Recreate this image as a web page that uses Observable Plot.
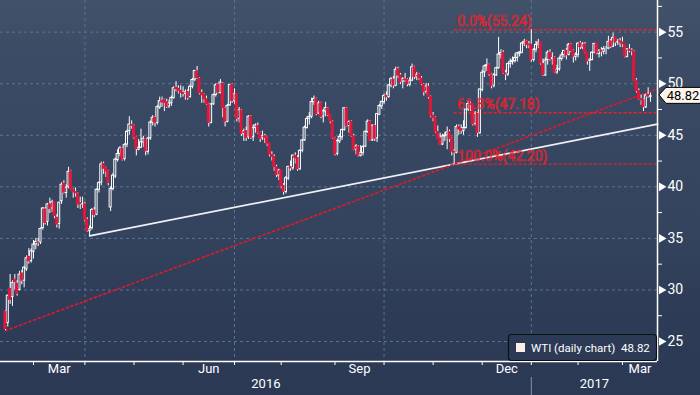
<!DOCTYPE html>
<html>
<head>
<meta charset="utf-8">
<script src="https://cdn.jsdelivr.net/npm/d3@7"></script>
<script src="https://cdn.jsdelivr.net/npm/@observablehq/plot@0.6"></script>
<style>
  html, body { margin: 0; padding: 0; }
  body {
    width: 700px; height: 395px; overflow: hidden;
    background: linear-gradient(to bottom, #415269 0px, #3d4c66 48px, #384761 140px, #33425d 240px, #2e3c58 300px, #2c3955 395px);
  }
  #chart svg { display: block; }
</style>
</head>
<body>
<div id="chart"></div>
<script>
// ---- WTI daily candles, 11 Feb 2016 .. 17 Mar 2017 (one entry per trading day) ----
const open = [
27.9,26.8,30.1,29.3,31.0,30.6,30.0,31.6,30.9,32.0,
33.2,32.8,33.7,34.4,34.6,34.6,36.0,37.8,36.6,38.3,
37.9,38.5,37.0,36.4,38.6,40.3,39.4,40.0,41.5,39.7,
39.5,39.3,38.4,38.3,38.3,36.8,35.7,36.0,37.7,37.3,
39.7,40.4,42.2,41.8,41.5,38.0,39.8,41.0,42.6,43.2,
43.7,42.7,44.1,45.4,46.0,45.9,44.8,43.6,43.8,44.3,
44.6,43.4,44.7,46.2,46.7,46.2,47.7,48.3,48.4,48.2,
47.8,48.1,48.6,49.6,49.5,49.3,49.1,49.0,49.2,48.7,
49.7,50.4,51.2,50.5,49.1,48.9,48.5,48.0,46.2,48.0,
48.9,49.9,49.1,50.0,47.6,46.3,47.9,49.9,48.3,49.0,
46.6,47.4,45.1,45.4,44.8,46.8,44.8,45.7,45.9,45.2,
44.7,44.9,44.8,44.2,43.1,42.9,41.9,41.1,41.6,40.1,
39.5,40.8,41.9,41.8,43.0,42.8,41.7,43.5,44.5,45.7,
46.6,46.8,48.2,48.5,47.1,48.1,46.8,47.3,47.6,47.0,
46.3,44.7,43.2,44.4,44.8,45.5,47.6,45.9,46.3,44.9,
43.6,43.9,43.0,43.3,43.9,45.3,46.3,44.5,45.9,44.7,
47.0,47.8,48.2,48.8,48.7,49.8,50.4,49.8,51.4,50.8,
50.2,50.4,50.4,49.9,50.3,51.6,50.6,50.9,50.5,49.9,
49.2,49.7,48.7,46.9,46.7,45.3,44.7,44.1,44.9,45.0,
45.3,44.7,43.4,43.3,45.8,45.6,45.4,45.7,47.5,48.0,
48.0,46.1,47.1,45.2,49.4,51.1,51.7,51.8,50.9,49.8,
50.8,51.5,52.8,53.0,51.0,50.9,51.9,52.1,52.2,52.5,
52.9,53.0,53.9,54.1,53.8,53.8,52.3,53.3,53.8,54.0,
51.9,50.8,52.3,53.0,52.4,52.5,51.1,51.4,52.4,52.8,
53.2,52.8,53.8,53.2,52.6,52.8,53.9,53.5,53.8,53.0,
52.2,52.3,53.0,53.9,52.9,53.2,53.1,53.4,53.4,54.1,
53.6,54.5,54.0,54.1,54.0,53.8,52.6,53.3,53.2,53.1,
50.3,49.3,48.5,48.4,47.7,48.9,48.7
];
const high = [
28.0,29.5,31.5,30.9,31.5,30.9,31.8,31.9,32.3,33.3,
34.0,34.0,34.8,35.0,35.0,36.0,38.0,38.0,38.4,38.9,
38.7,38.5,37.3,38.5,40.4,40.6,40.2,41.9,41.6,39.8,
39.9,39.4,39.0,39.0,38.5,37.0,36.2,37.9,38.0,39.8,
40.5,42.4,42.4,41.9,41.6,40.0,41.3,42.8,43.6,43.9,
43.8,44.2,45.5,46.8,46.4,46.0,44.9,44.6,45.6,44.9,
44.6,44.8,46.4,46.9,46.8,47.9,48.7,48.7,48.5,48.5,
48.4,48.8,49.7,50.2,49.8,49.8,49.7,49.4,49.4,49.9,
50.5,51.3,51.67,50.6,49.4,49.0,48.8,48.1,48.1,49.0,
50.0,50.0,50.4,50.1,47.7,48.0,49.9,50.0,49.5,49.0,
47.7,47.5,45.6,45.8,46.9,46.9,46.0,46.1,46.2,45.3,
45.4,45.1,44.9,44.2,43.4,43.1,42.1,41.7,41.6,40.3,
41.0,42.0,42.5,43.1,43.3,43.0,43.6,44.6,45.9,46.8,
47.2,48.6,48.8,48.6,48.3,48.2,47.5,48.2,47.7,47.0,
46.4,44.8,44.6,45.1,45.6,47.7,47.7,46.4,46.4,45.1,
44.1,44.0,44.0,44.0,45.4,46.5,46.4,46.0,46.0,47.1,
48.0,48.3,49.0,49.2,49.9,50.6,50.7,51.6,51.6,51.0,
50.6,51.0,50.5,50.6,51.9,51.7,51.1,51.0,50.7,50.0,
50.0,50.0,48.8,47.2,46.8,45.9,45.2,45.1,45.3,45.8,
45.5,44.8,43.6,46.0,46.0,46.0,46.4,47.5,48.3,48.2,
48.0,47.3,47.2,49.5,51.3,51.8,52.4,51.9,51.0,51.0,
51.6,54.5,53.3,53.2,51.3,52.0,52.4,52.6,52.9,53.0,
53.1,54.0,54.3,54.2,54.1,55.24,53.4,54.1,54.3,54.0,
52.4,52.5,53.2,53.3,53.0,52.6,51.8,52.6,53.0,53.2,
53.4,53.9,53.9,53.3,53.0,54.0,54.1,54.0,54.0,53.0,
52.4,53.1,53.9,53.9,53.3,53.5,53.6,53.6,54.6,54.3,
54.9,54.5,54.3,54.4,54.5,53.8,53.4,53.8,53.4,53.2,
50.5,49.5,48.9,48.5,49.0,49.6,49.1
];
const low = [
26.05,26.4,28.6,28.4,30.0,29.4,29.9,30.5,30.2,31.8,
32.5,32.6,33.0,33.9,34.2,34.4,35.8,36.3,36.2,37.4,
37.5,36.9,36.0,35.9,38.3,39.3,38.9,39.8,39.7,38.9,
39.0,37.9,37.8,37.9,36.6,35.6,35.24,35.8,37.0,37.2,
39.4,40.1,41.2,40.9,40.1,37.6,39.6,40.8,42.4,42.9,
42.5,42.5,43.8,45.0,45.6,44.6,43.0,43.5,43.7,43.8,
43.0,43.1,44.5,45.9,45.8,46.0,47.5,47.7,47.3,47.6,
47.6,47.8,48.5,49.2,49.0,48.6,48.7,48.4,48.4,48.6,
49.5,50.2,50.4,48.9,48.1,48.1,47.9,45.8,46.1,47.9,
48.7,49.0,49.0,46.7,45.8,46.2,47.8,48.1,48.0,46.3,
46.2,44.9,44.4,44.4,44.6,44.6,44.4,45.2,45.1,44.3,
44.5,44.2,43.9,42.9,42.5,41.5,40.9,40.6,39.8,39.19,
39.3,40.6,41.5,41.6,42.2,41.5,41.6,43.3,44.4,45.6,
46.0,46.6,47.9,46.9,47.0,46.6,46.2,46.8,46.8,46.1,
44.6,43.0,43.0,44.2,44.5,45.4,45.8,45.2,44.8,43.5,
43.1,42.9,42.9,43.0,43.8,45.2,44.4,44.4,44.4,44.3,
46.9,47.5,48.0,48.3,48.6,49.6,49.5,49.7,50.5,49.9,
49.5,50.1,49.7,49.7,50.2,50.4,50.3,50.3,49.8,48.8,
49.0,48.5,46.7,46.3,45.2,44.6,44.0,44.0,44.4,43.6,
44.3,43.0,42.20,43.2,45.0,45.1,45.0,45.6,47.3,47.3,
45.9,45.9,44.8,45.1,49.2,50.6,51.2,50.7,49.5,49.6,
50.7,51.4,52.4,50.9,50.3,50.7,51.5,51.8,52.0,52.1,
52.6,52.9,53.6,53.4,53.4,52.1,52.1,53.0,53.4,51.8,
50.7,50.7,51.8,52.2,51.8,51.0,50.9,51.2,52.2,52.5,
52.3,52.7,53.0,52.0,52.2,52.5,53.3,53.3,52.9,51.8,
51.2,52.2,52.9,52.8,52.5,52.6,52.8,52.8,53.3,53.4,
53.5,53.6,53.7,53.5,53.5,52.5,52.5,53.0,52.7,50.2,
49.1,48.4,47.9,47.3,47.6,48.6,48.2
];
const close = [
26.21,29.44,29.04,30.66,30.77,29.64,31.48,30.9,32.15,33.07,
32.78,33.75,34.40,34.66,34.57,35.92,37.90,36.50,38.29,37.84,
38.50,37.18,36.34,38.46,40.20,39.44,39.91,41.45,39.79,39.46,
39.39,38.28,38.32,38.34,36.79,35.70,35.89,37.75,37.26,39.72,
40.36,42.17,41.76,41.50,40.36,39.78,41.08,42.63,43.18,43.73,
42.64,44.04,45.33,46.03,45.92,44.78,43.65,43.78,44.32,44.66,
43.44,44.66,46.23,46.70,46.21,47.72,48.31,48.19,48.16,47.75,
48.08,48.62,49.56,49.48,49.33,49.10,49.01,49.17,48.62,49.69,
50.36,51.23,50.56,49.07,48.88,48.49,48.01,46.21,47.98,48.89,
49.85,49.13,50.11,47.64,46.33,47.85,49.88,48.33,48.99,46.60,
47.43,45.14,45.41,44.76,46.80,44.75,45.68,45.95,45.24,44.65,
44.94,44.75,44.19,43.13,42.92,41.92,41.14,41.60,40.06,39.51,
40.83,41.93,41.80,43.02,42.77,41.71,43.49,44.49,45.74,46.58,
46.79,48.22,48.52,47.05,48.10,46.77,47.33,47.64,46.98,46.35,
44.70,43.16,44.44,44.83,45.50,47.62,45.88,46.29,44.90,43.58,
43.91,43.03,43.30,43.85,45.34,46.32,44.48,45.93,44.67,47.05,
47.83,48.24,48.81,48.69,49.83,50.44,49.81,51.35,50.79,50.18,
50.44,50.35,49.94,50.29,51.60,50.63,50.85,50.52,49.96,49.18,
49.72,48.70,46.86,46.67,45.34,44.66,44.07,44.89,44.98,45.27,
44.66,43.41,43.32,45.81,45.57,45.42,45.69,47.49,48.03,47.96,
46.06,47.08,45.23,49.44,51.06,51.68,51.79,50.93,49.77,50.84,
51.50,52.83,52.98,51.04,50.90,51.90,52.12,52.23,52.49,52.95,
53.02,53.90,54.06,53.77,53.72,52.33,53.26,53.76,53.99,51.96,
50.82,52.25,53.01,52.37,52.48,51.08,51.37,52.42,52.75,53.18,
52.75,53.78,53.17,52.63,52.81,53.88,53.54,53.83,53.01,52.17,
52.34,53.00,53.86,52.93,53.20,53.11,53.36,53.40,54.06,53.59,
54.45,53.99,54.05,54.01,53.83,52.61,53.33,53.20,53.14,50.28,
49.28,48.49,48.40,47.72,48.86,48.75,48.82
];

// ---- axis / annotation values ----
const monthStarts = [12, 34, 55, 76, 98, 118, 141, 162, 183, 204, 225, 245, 264]; // trading-day index of 1st of Mar 2016 .. Mar 2017
const monthNames  = ["Mar","Apr","May","Jun","Jul","Aug","Sep","Oct","Nov","Dec","Jan","Feb","Mar"];
const labelledMonths = ["Mar","Jun","Sep","Dec"];
const quarterStarts = [34, 98, 162, 225];
const yearStartIndex = [225];
const yearNames = ["2016", "2017"];
const yTicks = [25, 30, 35, 40, 45, 50, 55];
const yMinor = [27.5, 32.5, 37.5, 42.5, 47.5, 52.5, 57.5];
const fibPct = ["0.0%", "61.8%", "100.0%"];
const fibValues = [55.24, 47.18, 42.20];
const fibStartIndex = 192;          // 14 Nov 2016 low
const supportAnchors = [[36, 35.24], [192, 42.20]];  // 5 Apr 2016 low -> 14 Nov 2016 low
const redAnchors = [[0, 26.05], [192, 42.20]];        // 11 Feb 2016 low -> 14 Nov 2016 low
const seriesName = "WTI (daily chart)";

// ---- layout ----
const W = 700, H = 395, mR = 43, mB = 34;
const xDomain = [-2.12, 279];
const yDomain = [23.06, 58.07];
const RED = "#e3173a";
const ANN = "#f01e28";
const GRID = "#587593";
const FONT = "Roboto, 'DejaVu Sans', sans-serif";

const candles = close.map((c, i) => ({i, o: open[i], h: high[i], l: low[i], c}));
const last = candles[candles.length - 1];

function extend([[x0, y0], [x1, y1]], xEnd) {
  const s = (y1 - y0) / (x1 - x0);
  return [{i: x0, v: y0}, {i: xEnd, v: y0 + s * (xEnd - x0)}];
}
const supportLine = extend(supportAnchors, xDomain[1]);
const redLine = extend(redAnchors, xDomain[1]);
const fibs = fibValues.map((v, k) => ({v, label: `${fibPct[k]}(${v.toFixed(2)})`}));

const monthLabels = monthStarts.map((s, k) => ({
  name: monthNames[k],
  mid: (s + (k + 1 < monthStarts.length ? monthStarts[k + 1] : xDomain[1])) / 2,
  show: labelledMonths.includes(monthNames[k]) || k === monthStarts.length - 1
})).filter(d => d.show);
const yearLabels = [
  {name: yearNames[0], mid: (xDomain[0] + yearStartIndex[0]) / 2},
  {name: yearNames[1], mid: (yearStartIndex[0] + xDomain[1]) / 2}
];

function legendMark(index, scales, values, dim) {
  const g = d3.create("svg:g");
  const x1 = dim.width - dim.marginRight - 1, y1 = dim.height - dim.marginBottom - 1;
  const x0 = x1 - 148, y0 = y1 - 26;
  g.append("rect").attr("x", x0 + 0.5).attr("y", y0 + 0.5).attr("width", 148).attr("height", 26)
    .attr("rx", 3).attr("fill", "#2d3a56").attr("stroke", "#0b0f18").attr("stroke-width", 1.2);
  g.append("rect").attr("x", x0 + 8).attr("y", y0 + 9).attr("width", 9).attr("height", 9).attr("fill", "#fbefe8");
  g.append("text").attr("x", x0 + 23).attr("y", y0 + 13.5).attr("dy", "0.35em")
    .attr("text-anchor", "start")
    .attr("fill", "white").attr("font-size", 11.5).attr("font-family", FONT)
    .text(`${seriesName}  ${last.c.toFixed(2)}`);
  return g.node();
}

function priceTag(index, scales, values, dim) {
  const g = d3.create("svg:g");
  const x = scales.x(xDomain[1]), y = scales.y(last.c);
  g.append("path")
    .attr("d", `M${x + 2},${y - 0.5} L${x + 9},${y - 8} H${x + 50} V${y + 8} H${x + 9} Z`)
    .attr("fill", "#fdf5ec").attr("stroke", "#000").attr("stroke-width", 1);
  g.append("text").attr("x", x + 26).attr("y", y).attr("dy", "0.36em").attr("text-anchor", "middle")
    .attr("fill", "#000").attr("font-size", 13).attr("font-family", FONT).text(last.c.toFixed(2));
  return g.node();
}

const chart = Plot.plot({
  width: W, height: H,
  marginLeft: 0, marginTop: 0, marginRight: mR, marginBottom: mB,
  style: {background: "transparent", color: "white", fontFamily: FONT, overflow: "visible"},
  x: {type: "linear", domain: xDomain, axis: null},
  y: {type: "linear", domain: yDomain, axis: null},
  marks: [
    Plot.ruleY(yTicks, {stroke: GRID, strokeDasharray: "3,3", strokeWidth: 1}),
    Plot.ruleX(quarterStarts, {stroke: GRID, strokeDasharray: "3,3", strokeWidth: 1}),
    Plot.line(supportLine, {x: "i", y: "v", stroke: "#eef0f4", strokeWidth: 1.8}),
    Plot.line(redLine, {x: "i", y: "v", stroke: "#dc1a2c", strokeWidth: 1.7, strokeDasharray: "2,3"}),
    Plot.ruleY(fibs, {y: "v", x1: fibStartIndex, x2: xDomain[1], stroke: ANN, strokeWidth: 1.4, strokeDasharray: "3,2"}),
    // wicks
    Plot.ruleX(candles, {x: "i", y1: "h", y2: d => Math.max(d.o, d.c), stroke: "white", strokeWidth: 1}),
    Plot.ruleX(candles, {x: "i", y1: "l", y2: d => Math.min(d.o, d.c), stroke: "white", strokeWidth: 1}),
    // bodies
    Plot.rect(candles, {filter: d => d.c >= d.o, x1: d => d.i - 0.43, x2: d => d.i + 0.43, y1: "o", y2: "c",
      fill: "none", stroke: "white", strokeWidth: 1}),
    Plot.rect(candles, {filter: d => d.c < d.o, x1: d => d.i - 0.43, x2: d => d.i + 0.43, y1: "o", y2: "c",
      fill: RED, stroke: RED, strokeWidth: 1}),
    Plot.text(fibs, {x: fibStartIndex, y: "v", text: "label", textAnchor: "start", dx: 3, dy: -8,
      fill: "none", stroke: ANN, strokeWidth: 0.7, fontSize: 14, fontFamily: FONT}),
    // axis lines
    Plot.ruleX([xDomain[1]], {stroke: "white", strokeWidth: 1.5}),
    Plot.ruleY([yDomain[0]], {stroke: "white", strokeWidth: 1.5}),
    Plot.axisY({anchor: "right", ticks: yMinor, tickSize: 4, tickFormat: () => "", stroke: "white"}),
    Plot.axisY({anchor: "right", ticks: yTicks, tickSize: 0, tickPadding: 10, fontSize: 14, color: "white", fill: "white"}),
    Plot.dot(yTicks, {x: () => xDomain[1], y: d => d, symbol: "triangle", rotate: 90, r: 3.2, fill: "white", dx: 4}),
    Plot.axisX({anchor: "bottom", ticks: monthStarts, tickSize: 4, tickFormat: () => "", stroke: "white"}),
    Plot.axisX({anchor: "bottom", ticks: yearStartIndex, tickSize: 18, dy: 16, tickFormat: () => "", stroke: "#8791a3"}),
    Plot.text(monthLabels, {x: "mid", frameAnchor: "bottom", dy: 11, text: "name", fill: "white", fontSize: 13}),
    Plot.text(yearLabels, {x: "mid", frameAnchor: "bottom", dy: 26, text: "name", fill: "white", fontSize: 13}),
    legendMark,
    priceTag
  ]
});
document.getElementById("chart").appendChild(chart);
</script>
</body>
</html>
